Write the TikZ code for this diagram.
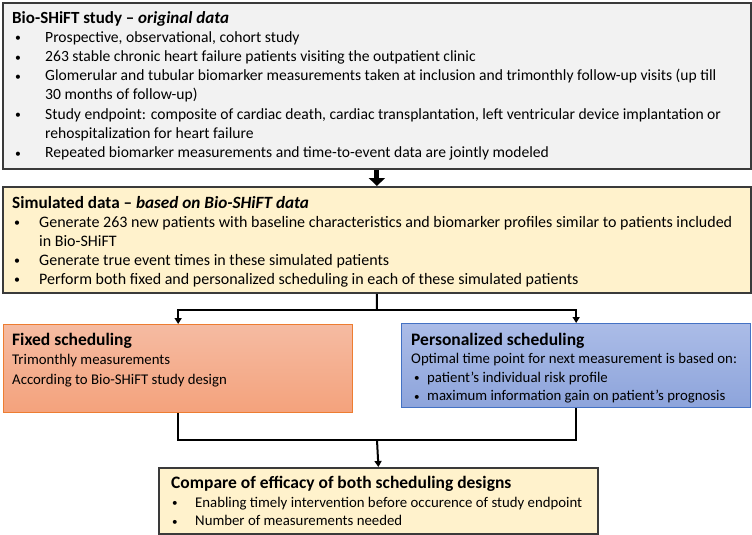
\documentclass[tikz,border=0pt]{standalone}
\usepackage{fontspec}
\setmainfont{Carlito}
\usetikzlibrary{arrows.meta}
\definecolor{boxgray}{HTML}{F2F2F2}
\definecolor{boxgold}{HTML}{FFF2CC}
\definecolor{darkline}{HTML}{3A3A3A}
\definecolor{orgtop}{HTML}{F5BBA2}
\definecolor{orgbot}{HTML}{F4A27C}
\definecolor{orgline}{HTML}{ED7D31}
\definecolor{blutop}{HTML}{ABBCE7}
\definecolor{blubot}{HTML}{8DA4DB}
\definecolor{bluline}{HTML}{4472C4}
\newcommand\smbul{\raisebox{0.5pt}{\scalebox{0.75}{\textbullet}}}
\newcommand\bulA[1]{\makebox[33pt][l]{\hspace{3pt}\smbul}#1}
\newcommand\bulD[1]{\makebox[27pt][l]{\hspace{2pt}\smbul}#1}
\newcommand\bulB[1]{\makebox[16pt][l]{\hspace{3pt}\smbul}#1}
\newcommand\bulC[1]{\makebox[24pt][l]{\hspace{1pt}\smbul}#1}
\tikzset{
  panel/.style={draw=darkline, line width=1.8pt, rectangle, inner sep=0pt, anchor=north west},
  txt/.style={anchor=north west, inner sep=0pt, align=left},
  conn/.style={line width=2pt, draw=black},
  connarrow/.style={conn, -{Triangle[width=7pt,length=6pt]}},
  bigarrow/.style={line width=5pt, -{Triangle[width=16pt,length=8pt]}}
}
\begin{document}
\begin{tikzpicture}[x=1pt,y=-1pt]
\useasboundingbox (0,0) rectangle (752,535);
% boxes
\node[panel, fill=boxgray, minimum width=748pt, minimum height=166pt] (b1) at (2,2) {};
\node[panel, fill=boxgold, minimum width=748pt, minimum height=106pt] (b2) at (2,186) {};
\node[panel, draw=orgline, line width=1.3pt, top color=orgtop, bottom color=orgbot, minimum width=349pt, minimum height=88pt] (fix) at (3,324) {};
\node[panel, draw=bluline, line width=1.3pt, top color=blutop, bottom color=blubot, minimum width=349pt, minimum height=84pt] (pers) at (401,323) {};
\node[panel, fill=boxgold, minimum width=439pt, minimum height=66pt] (cmp) at (158,467) {};
% texts
\node[txt, font=\fontsize{15.6}{19.2}\selectfont] (t1) at (12,11) {{\fontsize{17}{19.2}\selectfont\bfseries Bio-SHiFT study -- \itshape original data}\\
\bulA{Prospective, observational, cohort study}\\
\bulA{263 stable chronic heart failure patients visiting the outpatient clinic}\\
\bulA{Glomerular and tubular biomarker measurements taken at inclusion and trimonthly follow-up visits (up till}\\
\hspace*{33pt}30 months of follow-up)\\
\bulA{Study endpoint: composite of cardiac death, cardiac transplantation, left ventricular device implantation or}\\
\hspace*{33pt}rehospitalization for heart failure\\
\bulA{Repeated biomarker measurements and time-to-event data are jointly modeled}};
\node[txt, font=\fontsize{16}{19}\selectfont] (t2) at (12,196) {{\fontsize{17.2}{19}\selectfont\bfseries Simulated data -- \itshape based on Bio-SHiFT data}\\
\bulD{Generate 263 new patients with baseline characteristics and biomarker profiles similar to patients included}\\
\hspace*{27pt}in Bio-SHiFT\\
\bulD{Generate true event times in these simulated patients}\\
\bulD{Perform both fixed and personalized scheduling in each of these simulated patients}};
\node[txt, font=\fontsize{14.8}{19.5}\selectfont] (t3) at (12,333) {{\fontsize{17.5}{20}\selectfont\bfseries Fixed scheduling}\\
Trimonthly measurements\\
According to Bio-SHiFT study design};
\node[txt, font=\fontsize{14.8}{18.5}\selectfont] (t4) at (411,333) {{\fontsize{17.5}{20}\selectfont\bfseries Personalized scheduling}\\
Optimal time point for next measurement is based on:\\
\bulB{patient’s individual risk profile}\\
\bulB{maximum information gain on patient’s prognosis}};
\node[txt, font=\fontsize{14.8}{18.5}\selectfont] (t5) at (171,476) {{\fontsize{17.5}{20}\selectfont\bfseries Compare of efficacy of both scheduling designs}\\
\bulC{Enabling timely intervention before occurence of study endpoint}\\
\bulC{Number of measurements needed}};
% connectors
\coordinate (j1) at (377,310);
\coordinate (j2) at (377,440);
\draw[bigarrow] (b1.south) -- (b2.north);
\draw[conn] (b2.south) -- (j1);
\draw[connarrow] (j1) -| (fix.north);
\draw[connarrow] (j1) -| (pers.north);
\draw[conn] (fix.south) |- (j2);
\draw[conn] (pers.south) |- (j2);
\draw[connarrow] (j2) -- (cmp.north);
\end{tikzpicture}
\end{document}
